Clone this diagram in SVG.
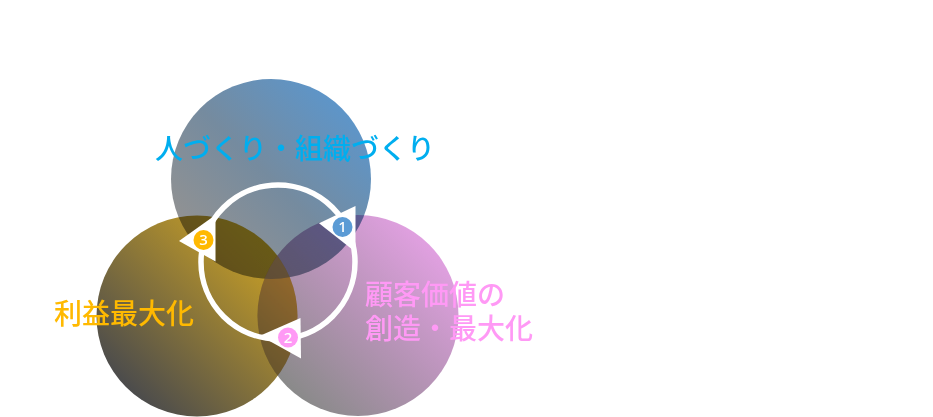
<svg xmlns="http://www.w3.org/2000/svg" width="933" height="417" viewBox="0 0 933 417">
<style>
.t{font-family:"Noto Sans CJK JP","Noto Sans CJK SC",sans-serif;font-size:28px;font-weight:500}
.n{font-family:"Noto Sans","Liberation Sans",sans-serif;font-size:15px;font-weight:500;fill:#fff;text-anchor:middle}
.c{mix-blend-mode:multiply}
</style>
<defs>
<linearGradient id="gt" x1="0.85" y1="0.15" x2="0.15" y2="0.85"><stop offset="0" stop-color="#5e95c8"/><stop offset="0.5" stop-color="#758b9f"/><stop offset="1" stop-color="#929292"/></linearGradient>
<linearGradient id="gr" x1="0.85" y1="0.15" x2="0.15" y2="0.85"><stop offset="0" stop-color="#e0a0e0"/><stop offset="0.5" stop-color="#b593b5"/><stop offset="1" stop-color="#8a8a8a"/></linearGradient>
<linearGradient id="gl" x1="0.85" y1="0.15" x2="0.15" y2="0.85"><stop offset="0" stop-color="#c9a025"/><stop offset="1" stop-color="#4c4c4c"/></linearGradient>
<clipPath id="cr"><circle cx="358" cy="315.5" r="100.5"/></clipPath>
</defs>
<rect width="933" height="417" fill="#fff"/>
<g id="circles">
<g id="node-top"><circle class="c" cx="271" cy="179" r="100" fill="url(#gt)"/></g>
<g id="node-left"><circle class="c" cx="197" cy="316" r="100.5" fill="url(#gl)"/></g>
<g id="node-right"><circle class="c" cx="358" cy="315.5" r="100.5" fill="url(#gr)"/></g>
<g clip-path="url(#cr)">
<circle cx="197" cy="316" r="100.5" fill="#b89060" opacity="0.25"/>
<circle cx="271" cy="179" r="100" fill="#6a70a0" opacity="0.15"/>
</g>
</g>
<g id="connectors">
<circle cx="278" cy="262" r="77" fill="none" stroke="#fff" stroke-width="5.5"/>
<polygon points="355.5,206 319,223.3 355.5,252" fill="#fff"/>
<polygon points="300.5,318 260,335.7 301,358.5" fill="#fff"/>
<polygon points="215.5,215 179,241 215.5,261.5" fill="#fff"/>
</g>
<g id="badge-1"><circle cx="342.5" cy="227" r="10" fill="#5b9bd5"/><text class="n" x="342.5" y="232.3">1</text></g>
<g id="badge-2"><circle cx="288" cy="337.5" r="10" fill="#ff99f5"/><text class="n" x="288" y="342.8">2</text></g>
<g id="badge-3"><circle cx="203.5" cy="240" r="10" fill="#ffb900"/><text class="n" x="203.5" y="245.3">3</text></g>
<g id="labels">
<text class="t" x="155" y="159" fill="#00aeef">人づくり・組織づくり</text>
<text class="t" x="54" y="324" fill="#ffb900">利益最大化</text>
<text class="t" x="365" y="305" fill="#ff99f5">顧客価値の</text>
<text class="t" x="365" y="339" fill="#ff99f5">創造・最大化</text>
</g>
</svg>
